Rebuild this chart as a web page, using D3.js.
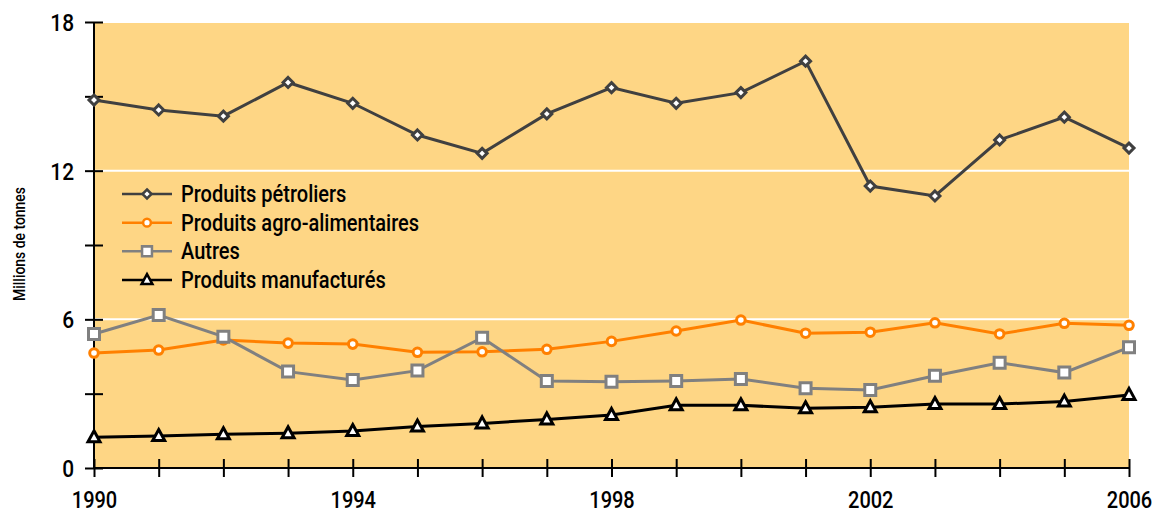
<!DOCTYPE html>
<html>
<head>
<meta charset="utf-8">
<script src="https://cdn.jsdelivr.net/npm/d3@7"></script>
<style>
  html, body { margin: 0; padding: 0; background: #fff; }
  svg { display: block; }
  text { font-family: Roboto, "Liberation Sans", sans-serif; font-weight: 500; fill: #000; }
</style>
</head>
<body>
<svg id="chart" width="1157" height="513"></svg>
<script>
// Years on the x axis
const years = d3.range(1990, 2007);

// Tonnage per product family (millions de tonnes)
const petroliers = [14.85, 14.45, 14.2, 15.56, 14.72, 13.44, 12.7, 14.29, 15.35, 14.72, 15.15, 16.42, 11.38, 10.98, 13.24, 14.16, 12.91];
const agro       = [4.64, 4.76, 5.17, 5.04, 5.0, 4.67, 4.69, 4.79, 5.11, 5.53, 5.97, 5.44, 5.48, 5.86, 5.41, 5.84, 5.76];
const autres     = [5.41, 6.17, 5.3, 3.89, 3.55, 3.93, 5.26, 3.51, 3.48, 3.51, 3.59, 3.22, 3.15, 3.72, 4.25, 3.85, 4.87];
const manufact   = [1.24, 1.29, 1.36, 1.4, 1.49, 1.67, 1.8, 1.96, 2.14, 2.53, 2.53, 2.41, 2.45, 2.58, 2.58, 2.68, 2.95];

// Tick labels
const xTickLabels = [1990, 1994, 1998, 2002, 2006];
const yTickLabels = [0, 6, 12, 18];
const yGridValues = [6, 12];

const series = [
  { name: "Produits pétroliers",          values: petroliers, color: "#404040", symbol: "diamond" },
  { name: "Produits agro-alimentaires",   values: agro,       color: "#ff8000", symbol: "circle" },
  { name: "Autres",                       values: autres,     color: "#808080", symbol: "square" },
  { name: "Produits manufacturés",        values: manufact,   color: "#000000", symbol: "triangle" }
];

const svg = d3.select("#chart");
const plotLeft = 94, plotRight = 1129, plotTop = 22, plotBottom = 468;
const condense = 0.87; // horizontal squeeze giving a condensed face

const x = d3.scaleLinear().domain([1990, 2006]).range([plotLeft, plotRight]);
const y = d3.scaleLinear().domain([0, 18]).range([plotBottom, plotTop]);

// Condensed text: positioned by a group, squeezed horizontally
function label(parent, tx, ty, str, size, anchor, rotate) {
  const g = parent.append("g")
    .attr("transform", `translate(${tx},${ty})${rotate ? ` rotate(${rotate})` : ""} scale(${condense},1)`);
  g.append("text")
    .attr("text-anchor", anchor)
    .style("font-size", size + "px")
    .text(str);
  return g;
}

// Plot background
svg.append("rect")
  .attr("x", plotLeft).attr("y", y(18) + 1)
  .attr("width", plotRight - plotLeft).attr("height", plotBottom - y(18) - 1)
  .attr("fill", "#fed685");

// White horizontal gridlines
svg.append("g").selectAll("line").data(yGridValues).join("line")
  .attr("x1", plotLeft).attr("x2", plotRight)
  .attr("y1", d => y(d)).attr("y2", d => y(d))
  .attr("stroke", "#fff").attr("stroke-width", 2);

// Y axis: crossing ticks every 3, labels on 0/6/12/18
const yAxis = svg.append("g").attr("transform", `translate(${plotLeft},0)`)
  .call(d3.axisLeft(y).tickValues(d3.range(0, 19, 3)).tickSize(0).tickFormat(""));
yAxis.select(".domain").remove();
yAxis.append("line").attr("x1", 0).attr("x2", 0).attr("y1", y(18)).attr("y2", y(0))
  .attr("stroke", "#000").attr("stroke-width", 2);
yAxis.selectAll(".tick line").attr("x1", -9).attr("x2", 9).attr("stroke", "#000").attr("stroke-width", 2);
yAxis.selectAll(".tick").filter(d => yTickLabels.includes(d))
  .each(function(d) { label(d3.select(this), -20, 8.5, d, 24, "end"); });

// X axis: crossing ticks every year, labels every 4 years
const xAxis = svg.append("g").attr("transform", `translate(0,${plotBottom})`)
  .call(d3.axisBottom(x).tickValues(years).tickSize(0).tickFormat(""));
xAxis.select(".domain").remove();
xAxis.append("line").attr("x1", plotLeft).attr("x2", plotRight).attr("y1", 0).attr("y2", 0)
  .attr("stroke", "#000").attr("stroke-width", 2);
xAxis.selectAll(".tick line").attr("y1", -9).attr("y2", 9).attr("stroke", "#000").attr("stroke-width", 2);
xAxis.selectAll(".tick").filter(d => xTickLabels.includes(d))
  .each(function(d) { label(d3.select(this), 0, 40, d, 23, "middle"); });

// Y axis title
label(svg, 25, 244, "Millions de tonnes", 16, "middle", -90);

// Marker shapes
const symbolPath = {
  diamond: () => "M0,-5L5,0L0,5L-5,0Z",
  circle: () => d3.symbol(d3.symbolCircle, 58)(),
  square: () => "M-5.5,-5.5H5.5V5.5H-5.5Z",
  triangle: () => "M0,-6.5L6,4.5L-6,4.5Z"
};

const line = d3.line().x((d, i) => x(years[i])).y(d => y(d));

series.forEach(s => {
  const g = svg.append("g");
  g.append("path").datum(s.values)
    .attr("d", line)
    .attr("fill", "none")
    .attr("stroke", s.color)
    .attr("stroke-width", 3);
  g.selectAll("path.mark").data(s.values).join("path")
    .attr("class", "mark")
    .attr("transform", (d, i) => `translate(${x(years[i])},${y(d)})`)
    .attr("d", symbolPath[s.symbol]())
    .attr("fill", "#fff")
    .attr("stroke", s.color)
    .attr("stroke-width", 3);
});

// Legend
const legend = svg.append("g");
const legendY = d3.scaleLinear().domain([0, 3]).range([194, 280]);
series.forEach((s, i) => {
  const g = legend.append("g").attr("transform", `translate(0,${legendY(i)})`);
  g.append("line").attr("x1", 122).attr("x2", 172).attr("y1", 0).attr("y2", 0)
    .attr("stroke", s.color).attr("stroke-width", 2.5);
  g.append("path")
    .attr("transform", `translate(147,0) scale(0.9)`)
    .attr("d", symbolPath[s.symbol]())
    .attr("fill", "#fff").attr("stroke", s.color).attr("stroke-width", 2.8);
  label(g, 181, 8, s.name, 23, "start");
});
</script>
</body>
</html>
